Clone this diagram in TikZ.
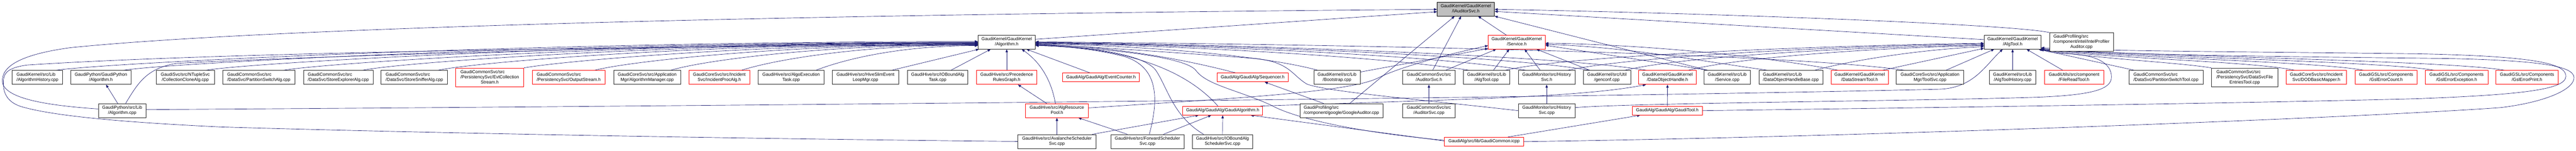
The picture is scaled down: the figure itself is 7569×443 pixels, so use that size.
\documentclass[tikz,border=0pt]{standalone}
\usepackage{fontspec}
\setmainfont{Liberation Sans}
\usetikzlibrary{arrows.meta,calc}
\definecolor{edgec}{HTML}{191970}
\definecolor{rootc}{HTML}{BFBFBF}
\newcommand\nodeone[1]{\begin{tabular}{@{}c@{}}#1\end{tabular}}
\newcommand\nodetwo[2]{\begin{tabular}{@{}l@{}}#1\\\multicolumn{1}{@{}c@{}}{#2}\end{tabular}}
\newcommand\nodethree[3]{\begin{tabular}{@{}l@{}}#1\\#2\\\multicolumn{1}{@{}c@{}}{#3}\end{tabular}}
\pgfdeclarelayer{bg}
\pgfsetlayers{bg,main}
\begin{document}
\begin{tikzpicture}[x=1pt,y=-1pt,
  nd/.style={draw=black!85,line width=1.2pt,fill=white,inner sep=0pt,minimum height=41pt,font=\fontsize{13}{15}\selectfont},
  rd/.style={nd,draw=red},
  edg/.style={draw=edgec,line width=1pt,-{Triangle[length=9pt,width=7pt]}}]
\useasboundingbox (0,0) rectangle (7569,443);
\begin{pgfonlayer}{bg}
\fill[white] (0,0) rectangle (7569,443);
\end{pgfonlayer}
% row 1
\node[nd,fill=rootc,draw=black,minimum width=168pt] (iaud) at (4307,26.5) {\nodetwo{GaudiKernel/GaudiKernel}{/IAuditorSvc.h}};
% row 2
\node[nd,minimum width=168pt,minimum height=40pt] (alg) at (2958,124) {\nodetwo{GaudiKernel/GaudiKernel}{/Algorithm.h}};
\node[rd,minimum width=167pt,minimum height=40pt] (svc) at (4456.5,124) {\nodetwo{GaudiKernel/GaudiKernel}{/Service.h}};
\node[nd,minimum width=167pt,minimum height=40pt] (algtool) at (5913.5,124) {\nodetwo{GaudiKernel/GaudiKernel}{/AlgTool.h}};
\node[nd,minimum width=188pt,minimum height=55pt] (intel) at (6116,123.5) {\nodethree{GaudiProfiling/src}{/component/intel/IntelProfiler}{Auditor.cpp}};
% row 3
\node[nd,minimum width=148pt] (h1) at (110,227.5) {\nodetwo{GaudiKernel/src/Lib}{/AlgorithmHistory.cpp}};
\node[nd,minimum width=176pt] (gph) at (296.5,227.5) {\nodetwo{GaudiPython/GaudiPython}{/Algorithm.h}};
\node[nd,minimum width=171pt] (cca) at (544.5,227.5) {\nodetwo{GaudiSvc/src/NTupleSvc}{/CollectionCloneAlg.cpp}};
\node[nd,minimum width=213pt] (psa) at (760.5,227.5) {\nodetwo{GaudiCommonSvc/src}{/DataSvc/PartitionSwitchAlg.cpp}};
\node[nd,minimum width=204pt] (sea) at (994,227.5) {\nodetwo{GaudiCommonSvc/src}{/DataSvc/StoreExplorerAlg.cpp}};
\node[nd,minimum width=195pt] (ssa) at (1217.5,227.5) {\nodetwo{GaudiCommonSvc/src}{/DataSvc/StoreSnifferAlg.cpp}};
\node[rd,minimum width=200pt,minimum height=55pt] (ecs) at (1439,227.5) {\nodethree{GaudiCommonSvc/src}{/PersistencySvc/EvtCollection}{Stream.h}};
\node[rd,minimum width=214pt] (ost) at (1671,227.5) {\nodetwo{GaudiCommonSvc/src}{/PersistencySvc/OutputStream.h}};
\node[nd,minimum width=197pt] (amg) at (1901.5,227.5) {\nodetwo{GaudiCoreSvc/src/Application}{Mgr/AlgorithmManager.cpp}};
\node[rd,minimum width=179pt] (ipa) at (2113.5,227.5) {\nodetwo{GaudiCoreSvc/src/Incident}{Svc/IncidentProcAlg.h}};
\node[nd,minimum width=193pt] (aet) at (2324.5,227.5) {\nodetwo{GaudiHive/src/AlgoExecution}{Task.cpp}};
\node[nd,minimum width=196pt] (hse) at (2543,227.5) {\nodetwo{GaudiHive/src/HiveSlimEvent}{LoopMgr.cpp}};
\node[nd,minimum width=178pt] (iob) at (2755,227.5) {\nodetwo{GaudiHive/src/IOBoundAlg}{Task.cpp}};
\node[rd,minimum width=178pt] (prg) at (2958,227.5) {\nodetwo{GaudiHive/src/Precedence}{RulesGraph.h}};
\node[rd,minimum width=226pt,minimum height=26pt] (evc) at (3235,227.5) {\nodeone{GaudiAlg/GaudiAlg/EventCounter.h}};
\node[rd,minimum width=209pt,minimum height=26pt] (seq) at (3680.5,227.5) {\nodeone{GaudiAlg/GaudiAlg/Sequencer.h}};
\node[nd,minimum width=137pt] (boot) at (3928.5,227.5) {\nodetwo{GaudiKernel/src/Lib}{/Bootstrap.cpp}};
\node[nd,minimum width=155pt] (ash) at (4198.5,227.5) {\nodetwo{GaudiCommonSvc/src}{/AuditorSvc.h}};
\node[nd,minimum width=136pt] (atc) at (4368,227.5) {\nodetwo{GaudiKernel/src/Lib}{/AlgTool.cpp}};
\node[nd,minimum width=167pt] (hsh) at (4544.5,227.5) {\nodetwo{GaudiMonitor/src/History}{Svc.h}};
\node[nd,minimum width=139pt] (gen) at (4721.5,227.5) {\nodetwo{GaudiKernel/src/Util}{/genconf.cpp}};
\node[rd,minimum width=169pt] (doh) at (4899.5,227.5) {\nodetwo{GaudiKernel/GaudiKernel}{/DataObjectHandle.h}};
\node[nd,minimum width=136pt] (svcpp) at (5075,227.5) {\nodetwo{GaudiKernel/src/Lib}{/Service.cpp}};
\node[nd,minimum width=188pt] (dohb) at (5262,227.5) {\nodetwo{GaudiKernel/src/Lib}{/DataObjectHandleBase.cpp}};
\node[rd,minimum width=168pt] (dst) at (5464,227.5) {\nodetwo{GaudiKernel/GaudiKernel}{/DataStreamTool.h}};
\node[nd,minimum width=198pt] (tsv) at (5671,227.5) {\nodetwo{GaudiCoreSvc/src/Application}{Mgr/ToolSvc.cpp}};
\node[nd,minimum width=137pt] (ath) at (5913.5,227.5) {\nodetwo{GaudiKernel/src/Lib}{/AlgToolHistory.cpp}};
\node[rd,minimum width=174pt] (frt) at (6094,227.5) {\nodetwo{GaudiUtils/src/component}{/FileReadTool.h}};
\node[nd,minimum width=218pt] (pst) at (6364,227.5) {\nodetwo{GaudiCommonSvc/src}{/DataSvc/PartitionSwitchTool.cpp}};
\node[nd,minimum width=195pt,minimum height=55pt] (dfe) at (6595.5,227.5) {\nodethree{GaudiCommonSvc/src}{/PersistencySvc/DataSvcFile}{EntriesTool.cpp}};
\node[rd,minimum width=178pt] (dod) at (6806,227.5) {\nodetwo{GaudiCoreSvc/src/Incident}{Svc/DODBasicMapper.h}};
\node[rd,minimum width=182pt] (gec) at (7011,227.5) {\nodetwo{GaudiGSL/src/Components}{/GslErrorCount.h}};
\node[rd,minimum width=184pt] (gee) at (7218,227.5) {\nodetwo{GaudiGSL/src/Components}{/GslErrorException.h}};
\node[rd,minimum width=182pt] (gep) at (7425,227.5) {\nodetwo{GaudiGSL/src/Components}{/GslErrorPrint.h}};
% row 4
\node[nd,minimum width=140pt] (gpa) at (359,325) {\nodetwo{GaudiPython/src/Lib}{/Algorithm.cpp}};
\node[rd,minimum width=185pt] (arp) at (3105.5,325) {\nodetwo{GaudiHive/src/AlgResource}{Pool.h}};
\node[rd,minimum width=235pt,minimum height=26pt] (gal) at (3592.5,325) {\nodeone{GaudiAlg/GaudiAlg/GaudiAlgorithm.h}};
\node[nd,minimum width=243pt] (goo) at (3941.5,325) {\nodetwo{GaudiProfiling/src}{/component/google/GoogleAuditor.cpp}};
\node[nd,minimum width=155pt] (asc) at (4198.5,325) {\nodetwo{GaudiCommonSvc/src}{/AuditorSvc.cpp}};
\node[nd,minimum width=167pt] (hsc) at (4544.5,325) {\nodetwo{GaudiMonitor/src/History}{Svc.cpp}};
\node[rd,minimum width=206pt,minimum height=26pt] (gtl) at (4899,325) {\nodeone{GaudiAlg/GaudiAlg/GaudiTool.h}};
% row 5
\node[nd,minimum width=229pt] (avs) at (3105.5,415.5) {\nodetwo{GaudiHive/src/AvalancheScheduler}{Svc.cpp}};
\node[nd,minimum width=215pt] (fws) at (3371.5,415.5) {\nodetwo{GaudiHive/src/ForwardScheduler}{Svc.cpp}};
\node[nd,minimum width=178pt] (ibs) at (3592,415.5) {\nodetwo{GaudiHive/src/IOBoundAlg}{SchedulerSvc.cpp}};
\node[rd,minimum width=233pt,minimum height=26pt] (gco) at (4360.5,416) {\nodeone{GaudiAlg/src/lib/GaudiCommon.icpp}};

\begin{pgfonlayer}{bg}
% --- into Algorithm.h, west side
\draw[edg] ($(h1.north)+(54,0)$) .. controls +(150,-22) and +(-1300,0) .. ($(alg.west)+(0,-2)$);
\draw[edg] ($(gph.north)+(66,0)$) .. controls +(140,-22) and +(-1200,0) .. ($(alg.west)+(0,0)$);
\draw[edg] ($(cca.north)+(60,0)$) .. controls +(130,-22) and +(-1100,0) .. ($(alg.west)+(0,1)$);
\draw[edg] ($(psa.north)+(72,0)$) .. controls +(130,-22) and +(-1000,0) .. ($(alg.west)+(0,2)$);
\draw[edg] ($(sea.north)+(71,0)$) .. controls +(120,-24) and +(-900,0) .. ($(alg.west)+(0,3)$);
\draw[edg] ($(ssa.north)+(69,0)$) .. controls +(120,-25) and +(-800,0) .. ($(alg.west)+(0,4)$);
\draw[edg] (ecs.north east) .. controls +(110,-20) and +(-650,0) .. ($(alg.west)+(0,5)$);
\draw[edg] ($(ost.north)+(76,0)$) .. controls +(110,-28) and +(-550,0) .. ($(alg.west)+(0,6)$);
\draw[edg] ($(amg.north)+(69,0)$) .. controls +(100,-30) and +(-450,0) .. ($(alg.west)+(0,7)$);
\draw[edg] ($(ipa.north)+(65,0)$) .. controls +(100,-32) and +(-340,0) .. ($(alg.west)+(0,8)$);
\draw[edg] ($(aet.north)+(73,0)$) .. controls +(90,-35) and +(-220,0) .. ($(alg.west)+(0,10)$);
\draw[edg] ($(gpa.north)+(10,0)$) .. controls (405,245) and (430,200) .. (520,186) .. controls (1000,160) and (2300,128) .. ($(alg.west)+(0,1)$);
\draw[edg] (avs.west) .. controls (2400,410) and (1400,395) .. (650,373) .. controls (420,362) and (170,345) .. (62,313) .. controls (15,298) and (8,265) .. (10,235) .. controls (12,212) and (28,198) .. (80,191) .. controls (700,150) and (2200,133) .. ($(alg.west)+(0,9)$);
% --- GaudiPython
\draw[edg] ($(gpa.west)+(0,-5)$) .. controls (140,310) and (12,290) .. (7,240) .. controls (4,195) and (60,160) .. (207,140) .. controls (700,90) and (2000,45) .. ($(iaud.west)+(0,1)$);
\draw[edg] ($(gpa.east)+(0,-3)$) .. controls (2000,312) and (4500,290) .. (5700,262) .. controls (5800,258) and (5835,190) .. ($(algtool.south)+(-29,0)$);
\draw[edg] ($(gpa.north)+(-13,0)$) -- ($(gph.south)+(15,0)$);
% --- into Algorithm.h, bottom
\draw[edg] ($(hse.north)+(77,0)$) -- ($(alg.south west)+(3,0)$);
\draw[edg] ($(iob.north)+(39,0)$) -- ($(alg.south)+(-47,0)$);
\draw[edg] (prg.north) -- (alg.south);
\draw[edg] ($(arp.north)+(-4.5,0)$) .. controls (3090,240) and (3060,185) .. ($(alg.south)+(44,0)$);
\draw[edg] ($(evc.north west)+(81,0)$) -- ($(alg.south)+(58,0)$);
% --- into Algorithm.h, east side
\draw[edg] ($(seq.north west)+(55,0)$) .. controls (3500,180) and (3300,138) .. ($(alg.east)+(0,6)$);
\draw[edg] ($(gal.north west)+(104,0)$) .. controls (3480,200) and (3300,140) .. ($(alg.east)+(0,8)$);
\draw[edg] ($(fws.north)+(5.5,0)$) .. controls (3405,290) and (3405,195) .. (3300,165) .. controls (3200,140) and (3100,135) .. ($(alg.east)+(0,10)$);
\draw[edg] ($(ibs.north west)+(34,0)$) .. controls (3445,340) and (3430,255) .. (3395,205) .. controls (3350,150) and (3150,136) .. ($(alg.east)+(0,9)$);
\draw[edg] ($(gco.west)+(0,-4)$) .. controls (3950,385) and (3790,340) .. (3737,310) .. controls (3640,265) and (3545,250) .. (3514,207) .. controls (3480,162) and (3200,140) .. ($(alg.east)+(0,7)$);
\draw[edg] (hsc.west) .. controls (4200,295) and (3900,270) .. (3840,247) .. controls (3795,220) and (3790,183) .. (3690,172) .. controls (3400,150) and (3200,138) .. ($(alg.east)+(0,5)$);
\draw[edg] ($(boot.north west)+(13,0)$) .. controls (3700,160) and (3350,135) .. ($(alg.east)+(0,4)$);
\draw[edg] ($(atc.north west)+(18,0)$) .. controls (4050,165) and (3450,133) .. ($(alg.east)+(0,3)$);
\draw[edg] ($(hsh.north west)+(24,0)$) .. controls (4200,160) and (3500,132) .. ($(alg.east)+(0,2)$);
\draw[edg] ($(gen.north west)+(20,0)$) .. controls (4400,160) and (3550,131) .. ($(alg.east)+(0,1)$);
\draw[edg] ($(doh.north west)+(24,0)$) .. controls (4550,160) and (3600,130) .. ($(alg.east)+(0,0)$);
\draw[edg] ($(tsv.north west)+(25,0)$) .. controls (5200,150) and (3700,128) .. ($(alg.east)+(0,-1)$);
% --- into Service.h
\draw[edg] ($(arp.east)+(0,-8)$) .. controls (3600,290) and (3960,272) .. (4047,230) .. controls (4110,198) and (4250,160) .. ($(svc.west)+(0,10)$);
\draw[edg] ($(boot.north east)+(0,5)$) -- ($(svc.south west)+(0,-2)$);
\draw[edg] ($(ash.north east)+(-29,0)$) -- ($(svc.south west)+(24,0)$);
\draw[edg] ($(atc.north)+(20,0)$) -- ($(svc.south)+(-22,0)$);
\draw[edg] ($(hsh.north)+(-19,0)$) -- ($(svc.south)+(23,0)$);
\draw[edg] ($(gen.north west)+(20,0)$) -- ($(svc.south east)+(-26,0)$);
\draw[edg] ($(svcpp.north west)+(13,0)$) -- ($(svc.east)+(0,9)$);
\draw[edg] ($(dohb.north west)+(27,0)$) .. controls (5000,180) and (4800,140) .. ($(svc.east)+(0,6)$);
\draw[edg] ($(dst.north west)+(22,0)$) .. controls (5150,160) and (4800,130) .. ($(svc.east)+(0,3)$);
% --- into IAuditorSvc.h
\draw[edg] ($(svc.north)+(-30,0)$) -- ($(iaud.south)+(36,0)$);
\draw[edg] ($(alg.north east)+(0,12)$) -- ($(iaud.west)+(0,8)$);
\draw[edg] ($(goo.north east)+(-98,0)$) -- ($(iaud.south)+(-33,0)$);
\draw[edg] ($(ash.north)+(11,0)$) -- ($(iaud.south)+(-14,0)$);
\draw[edg] ($(svcpp.north west)+(11,0)$) -- (iaud.south east);
\draw[edg] ($(algtool.north west)+(0,13)$) -- ($(iaud.east)+(0,7)$);
\draw[edg] (intel.north west) .. controls (5900,70) and (5000,38) .. ($(iaud.east)+(0,1)$);
% --- into AlgTool.h
\draw[edg] ($(atc.north east)+(-14,0)$) .. controls (4600,165) and (5300,135) .. ($(algtool.west)+(0,3)$);
\draw[edg] ($(hsh.north east)+(-23,0)$) .. controls (4800,165) and (5400,135) .. ($(algtool.west)+(0,5)$);
\draw[edg] ($(gen.north east)+(-18,0)$) .. controls (4950,165) and (5450,138) .. ($(algtool.west)+(0,8)$);
\draw[edg] ($(doh.north east)+(-24,0)$) .. controls (5100,170) and (5500,140) .. ($(algtool.west)+(0,10)$);
\draw[edg] ($(dohb.north east)+(-25,0)$) .. controls (5450,175) and (5650,145) .. ($(algtool.west)+(0,13)$);
\draw[edg] ($(dst.north east)+(-18,0)$) -- ($(algtool.west)+(0,18)$);
\draw[edg] ($(tsv.north east)+(-53,0)$) -- ($(algtool.south west)+(30,0)$);
\draw[edg] (ath.north) -- (algtool.south);
\draw[edg] ($(frt.north)+(-33,0)$) -- ($(algtool.south)+(41,0)$);
\draw[edg] ($(pst.north west)+(17,0)$) -- ($(algtool.south east)+(-8,0)$);
\draw[edg] (dfe.north west) .. controls (6400,183) and (6150,172) .. ($(algtool.south east)+(-6,0)$);
\draw[edg] ($(dod.north west)+(26,0)$) .. controls (6620,180) and (6200,172) .. ($(algtool.south east)+(-5,0)$);
\draw[edg] ($(gec.north west)+(26,0)$) .. controls (6800,180) and (6250,170) .. ($(algtool.south east)+(-4,0)$);
\draw[edg] ($(gee.north west)+(27,0)$) .. controls (7000,180) and (6300,168) .. ($(algtool.south east)+(-3,0)$);
\draw[edg] ($(gep.north west)+(26,0)$) .. controls (7200,178) and (6350,166) .. ($(algtool.south east)+(-2,0)$);
\draw[edg] (gtl.east) .. controls (5700,316) and (6600,303) .. (7100,290) .. controls (7420,278) and (7537,262) .. (7539,225) .. controls (7541,190) and (7470,165) .. (7100,158) .. controls (6600,152) and (6150,150) .. ($(algtool.east)+(0,16)$);
\draw[edg] (gco.east) .. controls (5500,402) and (6950,345) .. (7348,316) .. controls (7480,300) and (7565,262) .. (7563,227) .. controls (7561,195) and (7470,178) .. (7200,172) .. controls (6700,166) and (6200,162) .. ($(algtool.east)+(0,18)$);
\draw[edg] ($(hsc.east)+(0,-9)$) .. controls (4800,302) and (5700,296) .. (6000,285) .. controls (6150,278) and (6205,262) .. (6204,225) .. controls (6203,185) and (6160,162) .. (6080,158) .. controls (6040,156) and (6015,152) .. ($(algtool.south east)+(-1,0)$);
% --- misc
\draw[edg] (hsc.north) -- (hsh.south);
\draw[edg] (asc.north) -- (ash.south);
\draw[edg] (gtl.north) -- (doh.south);
\draw[edg] ($(gco.north east)+(-47,0)$) -- ($(gtl.south west)+(24,0)$);
\draw[edg] ($(gco.west)+(0,-2)$) -- ($(gal.south east)+(-36,0)$);
\draw[edg] ($(gal.north east)+(-7,0)$) .. controls (4300,292) and (4650,285) .. ($(doh.south west)+(22,0)$);
\draw[edg] (avs.north) -- (arp.south);
\draw[edg] ($(avs.north east)+(-11,0)$) -- ($(gal.south)+(-70.5,0)$);
\draw[edg] ($(fws.north west)+(49,0)$) -- ($(arp.south east)+(-30,0)$);
\draw[edg] ($(fws.north east)+(-61,0)$) -- ($(gal.south)+(-33.5,0)$);
\draw[edg] (ibs.north) -- (gal.south);
\draw[edg] ($(arp.north west)+(63,0)$) -- ($(prg.south)+(33,0)$);
\draw[edg] ($(goo.north west)+(70,0)$) -- ($(seq.south)+(35.5,0)$);
\end{pgfonlayer}
\end{tikzpicture}
\end{document}
